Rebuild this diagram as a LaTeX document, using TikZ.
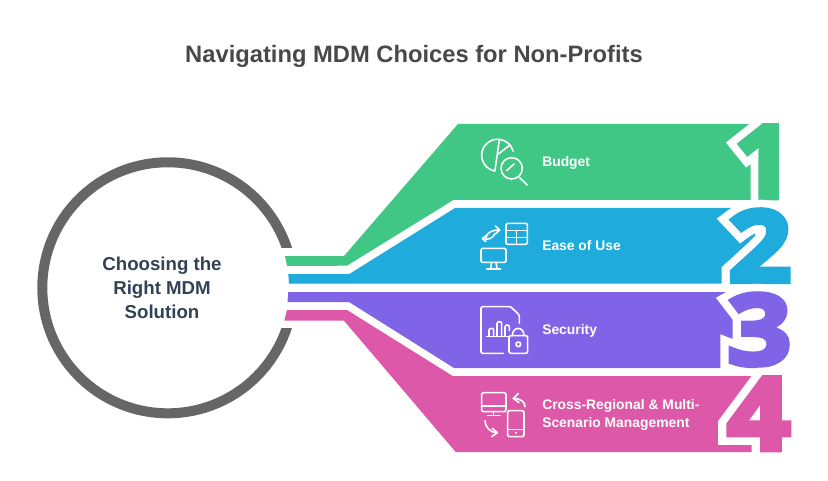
\documentclass[tikz,border=0pt]{standalone}
\usepackage{fontspec}
\usepackage{graphicx}
\setmainfont{Liberation Sans}
\newfontfamily\digitfont{Open Sans}[BoldFeatures={FakeBold=5}]
\newfontfamily\halofont{Open Sans}[BoldFeatures={FakeBold=20}]
\usetikzlibrary{arrows.meta}

\definecolor{bandgreen}{HTML}{41C785}
\definecolor{bandblue}{HTML}{1FABDC}
\definecolor{bandpurple}{HTML}{8064E8}
\definecolor{bandpink}{HTML}{DD58A8}
\definecolor{ringgray}{HTML}{666666}
\definecolor{titlegray}{HTML}{484848}
\definecolor{hubslate}{HTML}{334155}

\tikzset{
	itemlabel/.style={anchor=base west,inner sep=0,text=white,font=\fontsize{10.4}{13.5}\selectfont\bfseries,align=left},
	numeral/.style={anchor=south west,inner sep=0},
	iconline/.style={draw=white,line width=1.2pt,line cap=round,line join=round},
	iconbox/.style={shift={(470,#1)},x=0.25pt,y=-0.25pt}
}

% name, left, bottom, width, height, colour, digit
\newcommand{\bignumeral}[7]{
	\node[numeral,text=white] (halo#1) at (#2,#3) {\resizebox*{#4\dimexpr0.75pt\relax}{#5\dimexpr0.75pt\relax}{\halofont\bfseries #7}};
	\node[numeral,text=#6] (#1) at (#2,#3) {\resizebox*{#4\dimexpr0.75pt\relax}{#5\dimexpr0.75pt\relax}{\digitfont\bfseries #7}};
}

\begin{document}
\begin{tikzpicture}[x=0.75pt,y=-0.75pt]
	\useasboundingbox (0,0) rectangle (828,481);
	
	% Draw title
	\node[anchor=base,inner sep=0,text=titlegray,font=\fontsize{17.8}{20}\selectfont\bfseries] (title) at (414,62.7) {Navigating MDM Choices for Non-Profits};
	
	% Draw ring
	\draw[ringgray,line width=7.5pt] (167.8,287.8) circle(125.5);
	\fill[white] (270,247.7) rectangle (310,328);
	\node[align=center,inner sep=0,text=hubslate,font=\fontsize{14}{18}\selectfont\bfseries] (hub) at (162,288) {Choosing the\\Right MDM\\Solution};
	
	% Draw bands
	\fill[bandgreen] (285,256) -- (344,256) -- (458,124) -- (779,124) -- (779,200) -- (453.3,200) -- (347,265.7) -- (287,266) -- cycle;
	\fill[bandblue] (288.3,274) -- (349.3,274) -- (455,208) -- (755,208) -- (755,283.7) -- (289,283.7) -- cycle;
	\fill[bandpurple] (288.3,292) -- (745,292) -- (745,368) -- (454,368) -- (349,302) -- (287.5,302) -- cycle;
	\fill[bandpink] (287,310) -- (347,310) -- (452.7,376) -- (760,376) -- (760,452) -- (455.7,452) -- (344,320.7) -- (284.3,320.7) -- cycle;
	
	% Draw numerals
	\bignumeral{one}{734}{198}{58}{72}{bandgreen}{1}
	\bignumeral{two}{728}{282}{63}{72}{bandblue}{2}
	\bignumeral{three}{727}{366}{64}{72}{bandpurple}{3}
	\bignumeral{four}{727}{450}{63}{72}{bandpink}{4}
	
	% Draw labels
	\node[itemlabel] (budget) at (542,167) {Budget};
	\node[itemlabel] (ease) at (542,250.5) {Ease of Use};
	\node[itemlabel] (security) at (542,334.5) {Security};
	\node[itemlabel] (regional) at (542,427) {Cross-Regional \& Multi-\\Scenario Management};
	
	% Draw budget icon
	\begin{scope}[iconbox=130]
		\draw[iconline] (88,28) arc[start angle=-84,end angle=-260,radius=48] -- cycle;
		\draw[iconline] (88,28) arc[start angle=-84,end angle=-15,radius=48];
		\draw[iconline] (120,45) -- (85,72);
		\draw[iconline] (125,115) circle[radius=32];
		\draw[iconline] (148,142) -- (172,165);
		\draw[iconline] (110,122) -- (132,102);
	\end{scope}
	
	% Draw table and monitor icon
	\begin{scope}[iconbox=130]
		\draw[iconline,rounded corners=1pt] (108,280) rectangle (172,343);
		\draw[iconline] (108,302) -- (172,302) (108,322) -- (172,322) (140,302) -- (140,343);
		\draw[iconline,rounded corners=1pt] (33,355) rectangle (108,397);
		\draw[iconline] (65,397) -- (62,415) (78,397) -- (81,415) (50,417) -- (92,417);
		\draw[iconline] (47,325) .. controls (50,305) and (70,300) .. (88,300);
		\draw[iconline] (76,288) -- (89,300) -- (76,312);
		\draw[iconline] (75,310) .. controls (70,325) and (55,330) .. (38,327);
		\draw[iconline] (50,315) -- (37,326) -- (48,335);
	\end{scope}
	
	% Draw document and lock icon
	\begin{scope}[iconbox=300]
		\draw[iconline,rounded corners=1pt] (100,160) -- (33,160) -- (33,20) -- (122,20) -- (148,45) -- (148,70);
		\draw[iconline] (50,110) -- (115,110);
		\draw[iconline,rounded corners=1.5pt] (57,110) -- (57,85) -- (71,85) -- (71,110);
		\draw[iconline,rounded corners=1.5pt] (81,110) -- (81,65) -- (95,65) -- (95,110);
		\draw[iconline,rounded corners=1.5pt] (105,110) -- (105,75) -- (118,75) -- (118,92);
		\draw[iconline,rounded corners=1.5pt] (117,107) rectangle (173,160);
		\draw[iconline] (127,107) .. controls (127,78) and (162,78) .. (162,107);
		\draw[iconline] (145,133) circle[radius=7];
	\end{scope}
	
	% Draw monitor and phone icon
	\begin{scope}[iconbox=300]
		\draw[iconline,rounded corners=1.5pt] (35,278) rectangle (108,335);
		\draw[iconline] (35,318) -- (108,318) (70,335) -- (70,346) (53,347) -- (90,347);
		\draw[iconline,rounded corners=1.5pt] (113,332) rectangle (162,410);
		\draw[iconline] (113,388) -- (162,388);
		\fill[white] (138,398) circle[radius=3.5];
		\draw[iconline] (165,320) .. controls (165,305) and (150,295) .. (130,295);
		\draw[iconline] (145,280) -- (130,295) -- (147,308);
		\draw[iconline] (45,362) .. controls (45,380) and (60,398) .. (80,398);
		\draw[iconline] (65,410) -- (82,398) -- (67,385);
	\end{scope}
	
\end{tikzpicture}
\end{document}
